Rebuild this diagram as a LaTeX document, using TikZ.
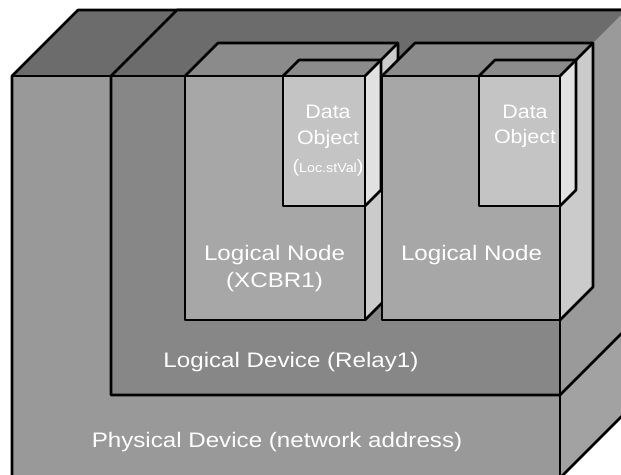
\documentclass[tikz,border=0pt]{standalone}
\usepackage{fontspec}
\newfontfamily\labfont[FakeStretch=1.15]{Liberation Sans}
\newfontfamily\dofont[FakeStretch=1.1]{Liberation Sans}
\definecolor{pdfrontc}{HTML}{999999}
\definecolor{ldfrontc}{HTML}{878787}
\definecolor{lnfrontc}{HTML}{A7A7A7}
\definecolor{dofrontc}{HTML}{C4C4C4}
\definecolor{topc}{HTML}{6C6C6C}
\definecolor{lntopc}{HTML}{8B8B8B}
\definecolor{sidec}{HTML}{9A9A9A}
\definecolor{pdsidec}{HTML}{A2A2A2}
\definecolor{lnsidec}{HTML}{CBCBCB}
\definecolor{dosidec}{HTML}{E1E1E1}
\begin{document}
\begin{tikzpicture}[x=1pt,y=-1pt,
  edge/.style={draw=black, line width=2.6pt, line join=round},
  lbl/.style={text=white, inner sep=0pt, anchor=base, font=\labfont\fontsize{21}{25}\selectfont},
  dolbl/.style={text=white, inner sep=0pt, anchor=base, font=\dofont\fontsize{19.5}{23}\selectfont}]
\useasboundingbox[fill=white] (0,0) rectangle (621,474);

% physical device box
\fill[pdfrontc] (12,76) rectangle (560,480);
\fill[topc] (12,76) -- (78,10) -- (630,10) -- (560,76) -- cycle;
\fill[pdsidec] (560,76) -- (630,6) -- (630,408) -- (560,478) -- cycle;
\draw[edge] (12,480) -- (12,76) -- (78,10) -- (630,10);
\draw[edge] (12,76) -- (560,76);
\draw[edge] (560,76) -- (560,480);
\draw[edge] (560,478) -- (630,408);

% logical device box
\fill[ldfrontc] (111,76) rectangle (560,395);
\fill[topc] (111,76) -- (177,10) -- (630,10) -- (560,76) -- cycle;
\fill[sidec] (560,76) -- (630,6) -- (630,325) -- (560,395) -- cycle;
\draw[edge] (111,76) -- (177,10) -- (630,10);
\draw[edge] (111,76) -- (560,76);
\draw[edge] (111,76) -- (111,395) -- (560,395) -- (630,325);
\draw[edge] (560,76) -- (560,395);

% logical node XCBR1
\fill[lnfrontc] (185,76) rectangle (365,320);
\fill[lntopc] (185,76) -- (218,43) -- (398,43) -- (365,76) -- cycle;
\fill[lnsidec] (365,76) -- (398,43) -- (398,287) -- (365,320) -- cycle;
\draw[edge] (185,76) rectangle (365,320);
\draw[edge] (185,76) -- (218,43) -- (398,43) -- (398,287) -- (365,320);
\draw[edge] (365,76) -- (398,43);

% second logical node
\fill[lnfrontc] (382,76) rectangle (560,320);
\fill[lntopc] (382,76) -- (415,43) -- (593,43) -- (560,76) -- cycle;
\fill[lnsidec] (560,76) -- (593,43) -- (593,287) -- (560,320) -- cycle;
\draw[edge] (382,76) rectangle (560,320);
\draw[edge] (382,76) -- (415,43) -- (593,43) -- (593,287) -- (560,320);
\draw[edge] (560,76) -- (593,43);

% data object of XCBR1
\fill[dofrontc] (283,76) rectangle (365,206);
\fill[lntopc] (283,76) -- (299,60) -- (381,60) -- (365,76) -- cycle;
\fill[dosidec] (365,76) -- (381,60) -- (381,190) -- (365,206) -- cycle;
\draw[edge] (283,76) rectangle (365,206);
\draw[edge] (283,76) -- (299,60) -- (381,60) -- (381,190) -- (365,206);
\draw[edge] (365,76) -- (381,60);

% data object of the second node
\fill[dofrontc] (479,76) rectangle (560,206);
\fill[lntopc] (479,76) -- (495,60) -- (576,60) -- (560,76) -- cycle;
\fill[dosidec] (560,76) -- (576,60) -- (576,190) -- (560,206) -- cycle;
\draw[edge] (479,76) rectangle (560,206);
\draw[edge] (479,76) -- (495,60) -- (576,60) -- (576,190) -- (560,206);
\draw[edge] (560,76) -- (576,60);

% labels
\node[lbl] (pdtext) at (277,447) {Physical Device (network address)};
\node[lbl] (ldtext) at (291,367) {Logical Device (Relay1)};
\node[lbl] (ln1a) at (274.5,260) {Logical Node};
\node[lbl] (ln1b) at (274.5,287) {(XCBR1)};
\node[lbl] (ln2a) at (471.5,260) {Logical Node};
\node[dolbl] (do1a) at (328,118) {Data};
\node[dolbl] (do1b) at (328,144) {Object};
\node[dolbl, font=\dofont\fontsize{13}{15}\selectfont] (do1c) at (328,172)
  {{\fontsize{18}{20}\selectfont(}Loc.stVal{\fontsize{18}{20}\selectfont)}};
\node[dolbl] (do2a) at (525,118) {Data};
\node[dolbl] (do2b) at (525,143) {Object};
\end{tikzpicture}
\end{document}
